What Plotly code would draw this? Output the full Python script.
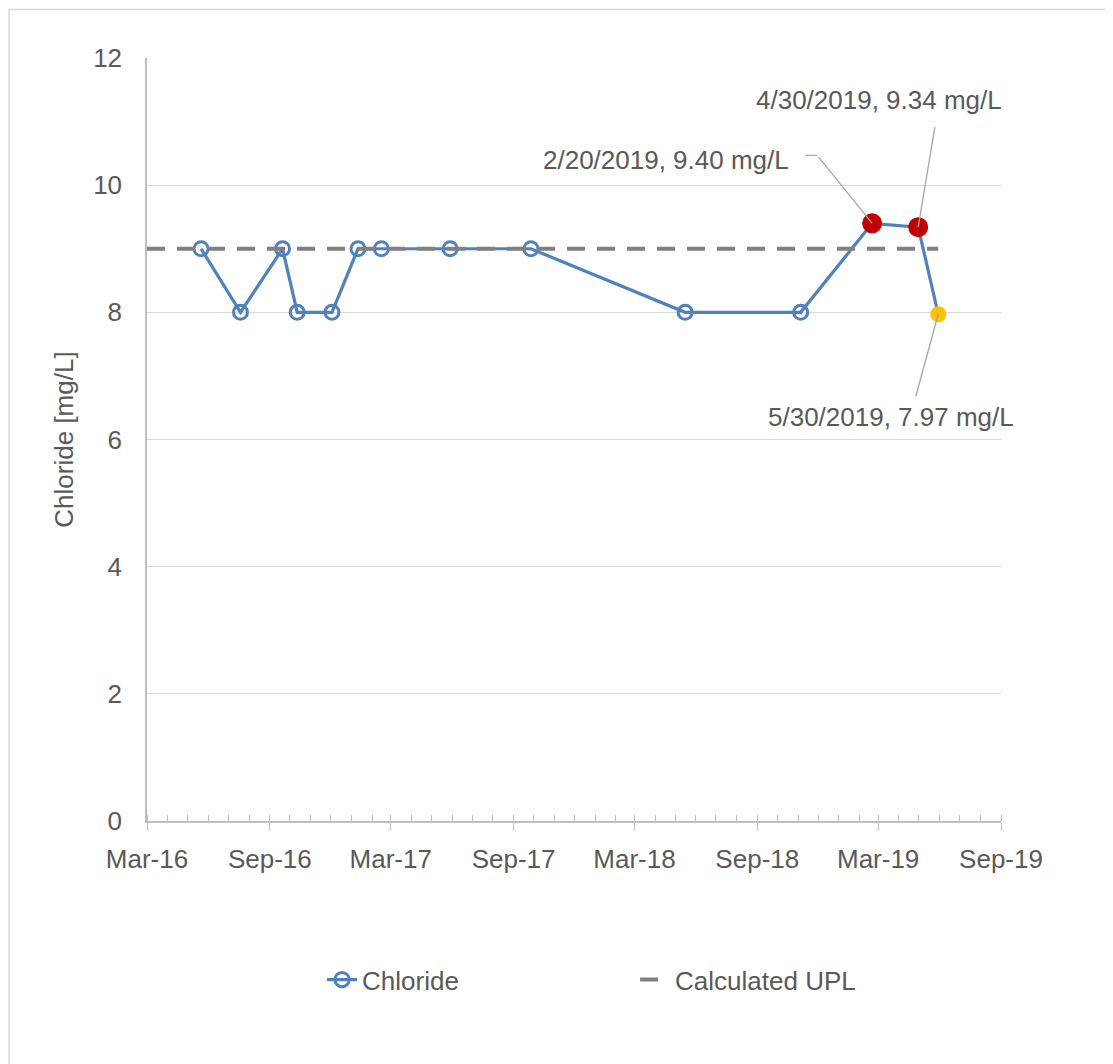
import plotly.graph_objects as go

# ---- data ----
dates = ["2016-05-21", "2016-07-19", "2016-09-20", "2016-10-12", "2016-12-03",
         "2017-01-11", "2017-02-15", "2017-05-29", "2017-09-27", "2018-05-16",
         "2018-11-05", "2019-02-20", "2019-04-30", "2019-05-30"]
chloride = [9, 8, 9, 8, 8, 9, 9, 9, 9, 8, 8, 9.40, 9.34, 7.97]
upl_dates = ["2016-03-01", "2019-05-30"]
upl_values = [9, 9]
y_ticks = [0, 2, 4, 6, 8, 10, 12]

BLUE = "#4F81BD"
RED = "#C00000"
YELLOW = "#FFC000"
TXT = "#595959"
FONT = "Liberation Sans"
FS = 26

n = len(chloride)
symbols = ["circle-open"] * (n - 3) + ["circle", "circle", "circle"]
colors = [BLUE] * (n - 3) + [RED, RED, YELLOW]
sizes = [14] * (n - 3) + [17, 17, 13]

fig = go.Figure()
fig.add_trace(go.Scatter(
    x=dates, y=chloride, name="Chloride", mode="lines+markers",
    line=dict(color=BLUE, width=3.2),
    marker=dict(symbol=symbols, color=colors, size=sizes, opacity=1,
                line=dict(color=colors, width=3)),
))
fig.add_trace(go.Scatter(
    x=upl_dates, y=upl_values, name="Calculated UPL", mode="lines",
    line=dict(color="#808080", width=4, dash="18px,12px"),
))

# ---- annotations (labels + leader lines) ----
LEAD = "#A6A6A6"
labels = [
    # index, text xshift, text yshift, arrow ax, arrow ay
    (11, -206, 63, -55, -68),
    (12, -39, 127, 17, -102),
    (13, -47, -103, -23, 84),
]
annotations = []
for idx, tx, ty, ax, ay in labels:
    d, v = dates[idx], chloride[idx]
    m, dd, yy = d[5:7], d[8:10], d[0:4]
    txt = f"{int(m)}/{int(dd)}/{yy}, {v:.2f} mg/L"
    annotations.append(dict(x=d, y=v, xref="x", yref="y", text=txt, showarrow=False,
                            xshift=tx, yshift=ty, font=dict(family=FONT, size=FS, color=TXT)))
    annotations.append(dict(x=d, y=v, xref="x", yref="y", text=" ", showarrow=True,
                            ax=ax, ay=ay, arrowhead=0, arrowwidth=1.3, arrowcolor=LEAD,
                            font=dict(size=1)))
# short horizontal piece of first leader
idx = labels[0][0]
annotations.append(dict(x=dates[idx], y=chloride[idx], xref="x", yref="y", text=" ",
                        showarrow=True, xshift=-55, yshift=68, ax=-13, ay=0,
                        arrowhead=0, arrowwidth=1.3, arrowcolor=LEAD, font=dict(size=1)))

fig.update_layout(
    width=1105, height=1056,
    margin=dict(l=139, r=112, t=50, b=243),
    paper_bgcolor="white", plot_bgcolor="white",
    font=dict(family=FONT, size=FS, color=TXT),
    showlegend=True,
    legend=dict(orientation="h", x=0.205, y=-0.208, xanchor="left", yanchor="middle",
                entrywidth=268, entrywidthmode="pixels",
                font=dict(family=FONT, size=FS, color=TXT)),
    annotations=annotations,
    shapes=[dict(type="rect", xref="paper", yref="paper",
                 x0=-0.1616, x1=1.3, y0=-0.5, y1=1.0637,
                 line=dict(color="#D9D9D9", width=1.5), layer="below")],
    xaxis=dict(
        type="date", range=["2016-03-01", "2019-09-01"],
        tick0="2016-03-01", dtick="M6", tickformat="%b-%y",
        showgrid=False, zeroline=False,
        showline=True, linecolor="#BFBFBF", linewidth=1.5,
        ticks="outside", ticklen=8, tickcolor="#BFBFBF", tickwidth=1.3,
        ticklabelstandoff=6,
        minor=dict(dtick="M1", tick0="2016-03-01", ticks="inside", ticklen=6,
                   tickcolor="#BFBFBF", tickwidth=1.2, showgrid=False),
        tickfont=dict(family=FONT, size=FS, color=TXT),
    ),
    yaxis=dict(
        range=[0, 12], tickvals=y_ticks, ticktext=[str(t) for t in y_ticks],
        showgrid=True, gridcolor="#D9D9D9", gridwidth=1.3,
        zeroline=False, showline=True, linecolor="#BFBFBF", linewidth=1.5,
        ticks="", ticklabelstandoff=18,
        tickfont=dict(family=FONT, size=FS, color=TXT),
        title=dict(text="Chloride [mg/L]", standoff=12,
                   font=dict(family=FONT, size=FS, color=TXT)),
    ),
)

fig.write_html("out.html")
